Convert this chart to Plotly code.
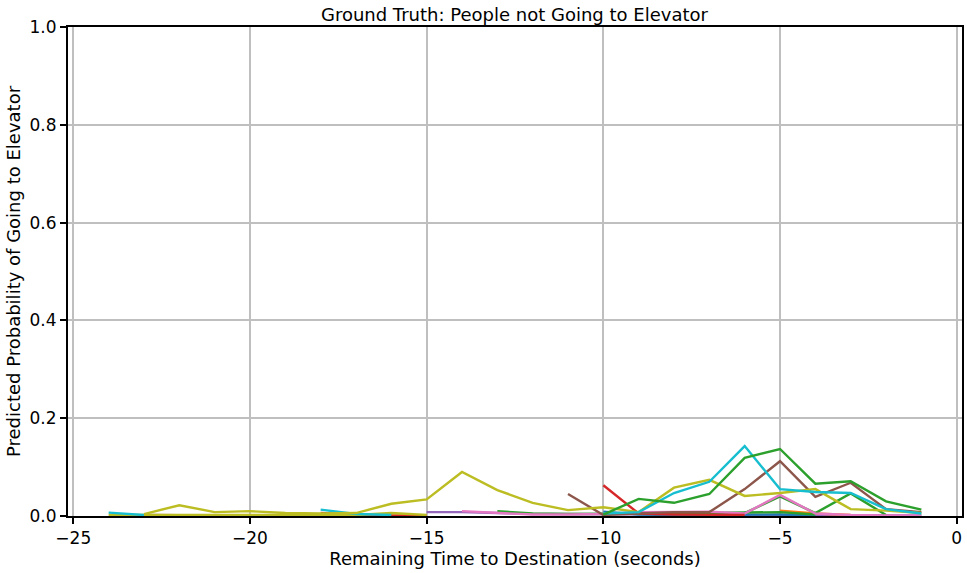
import plotly.graph_objects as go

# each person's trajectory: remaining seconds and predicted probability
olive_t = [-23, -22, -21, -20, -19, -18, -17, -16, -15, -14, -13, -12, -11, -10, -9, -8, -7, -6, -5, -4, -3, -2, -1]
olive_p = [0.004, 0.022, 0.008, 0.010, 0.006, 0.005, 0.006, 0.025, 0.034, 0.090, 0.053, 0.027, 0.012, 0.018, 0.008, 0.058, 0.074, 0.041, 0.047, 0.055, 0.014, 0.011, 0.006]

olive2_t = [-24, -23, -22, -21, -20, -19, -18, -17, -16, -15]
olive2_p = [0.002, 0.002, 0.002, 0.002, 0.003, 0.002, 0.002, 0.002, 0.006, 0.002]

green_t = [-10, -9, -8, -7, -6, -5, -4, -3, -2, -1]
green_p = [0.003, 0.035, 0.027, 0.045, 0.119, 0.137, 0.066, 0.071, 0.030, 0.013]

cyan_t = [-10, -9, -8, -7, -6, -5, -4, -3, -2, -1]
cyan_p = [0.005, 0.008, 0.047, 0.070, 0.143, 0.055, 0.049, 0.047, 0.014, 0.005]

cyan2_t = [-24, -23]
cyan2_p = [0.007, 0.002]

cyan3_t = [-18, -17, -16]
cyan3_p = [0.013, 0.004, 0.002]

brown_t = [-11, -10, -9, -8, -7, -6, -5, -4, -3, -2, -1]
brown_p = [0.045, 0.002, 0.005, 0.008, 0.008, 0.055, 0.112, 0.039, 0.068, 0.014, 0.008]

brown2_t = [-23, -22, -21, -20, -19, -18]
brown2_p = [0.002, 0.001, 0.001, 0.001, 0.001, 0.001]

red_t = [-10, -9, -8, -7, -6]
red_p = [0.063, 0.005, 0.003, 0.002, 0.002]

red2_t = [-18, -17, -16, -15]
red2_p = [0.006, 0.002, 0.001, 0.001]

pink_t = [-14, -13, -12, -11, -10, -9, -8, -7, -6, -5, -4, -3, -2, -1]
pink_p = [0.010, 0.006, 0.003, 0.003, 0.004, 0.008, 0.009, 0.009, 0.005, 0.043, 0.005, 0.002, 0.001, 0.001]

green2_t = [-6, -5, -4, -3, -2]
green2_p = [0.006, 0.040, 0.006, 0.046, 0.002]

green3_t = [-13, -12, -11, -10, -9, -8, -7, -6, -5, -4]
green3_p = [0.010, 0.005, 0.004, 0.004, 0.004, 0.005, 0.006, 0.007, 0.008, 0.003]

orange_t = [-5, -4, -3]
orange_p = [0.011, 0.005, 0.002]

blue_t = [-10, -9, -8, -7, -6, -5, -4]
blue_p = [0.009, 0.003, 0.002, 0.002, 0.002, 0.003, 0.001]

purple_t = [-15, -14, -13, -12, -11, -10, -9, -8, -7, -6, -5, -4, -3, -2, -1]
purple_p = [0.008, 0.008, 0.006, 0.004, 0.004, 0.004, 0.003, 0.003, 0.003, 0.002, 0.002, 0.002, 0.001, 0.001, 0.001]

y_ticks = [0.0, 0.2, 0.4, 0.6, 0.8, 1.0]
x_ticks = [-25, -20, -15, -10, -5, 0]

series = [
    (purple_t, purple_p, "#9467bd"),
    (blue_t, blue_p, "#1f77b4"),
    (orange_t, orange_p, "#ff7f0e"),
    (green3_t, green3_p, "#2ca02c"),
    (red2_t, red2_p, "#d62728"),
    (brown2_t, brown2_p, "#8c564b"),
    (olive2_t, olive2_p, "#bcbd22"),
    (cyan2_t, cyan2_p, "#17becf"),
    (cyan3_t, cyan3_p, "#17becf"),
    (green2_t, green2_p, "#2ca02c"),
    (pink_t, pink_p, "#e377c2"),
    (red_t, red_p, "#d62728"),
    (brown_t, brown_p, "#8c564b"),
    (olive_t, olive_p, "#bcbd22"),
    (cyan_t, cyan_p, "#17becf"),
    (green_t, green_p, "#2ca02c"),
]

fig = go.Figure()
for t, p, c in series:
    fig.add_trace(go.Scatter(x=t, y=p, mode="lines", line=dict(color=c, width=2.4), showlegend=False))

axis_style = dict(showline=True, linecolor="black", linewidth=2, mirror=True,
                  showgrid=True, gridcolor="#bfbfbf", gridwidth=1.5, zeroline=False,
                  ticks="outside", ticklen=6, tickwidth=1.5, tickcolor="black",
                  tickfont=dict(size=17, color="black"), automargin=False)

fig.update_xaxes(range=[-25.15, 0.15], tickvals=x_ticks,
                 title=dict(text="Remaining Time to Destination (seconds)", font=dict(size=18, color="black"), standoff=5),
                 **axis_style)
fig.update_yaxes(range=[0, 1], tickvals=y_ticks, tickformat=".1f",
                 title=dict(text="Predicted Probability of Going to Elevator", font=dict(size=18, color="black"), standoff=4),
                 **axis_style)

fig.update_layout(width=967, height=573, margin=dict(l=68, r=5, t=27, b=57),
                  plot_bgcolor="white", paper_bgcolor="white",
                  font=dict(family="DejaVu Sans", color="black"),
                  title=dict(text="Ground Truth: People not Going to Elevator", x=0.532, xanchor="center",
                             y=0.974, yanchor="middle", font=dict(size=18, color="black")))

# page body has a default 8px margin; drop it so the figure fills the window
fig.write_html("out.html", config={"displayModeBar": False},
               post_script="document.body.style.margin='0';")
